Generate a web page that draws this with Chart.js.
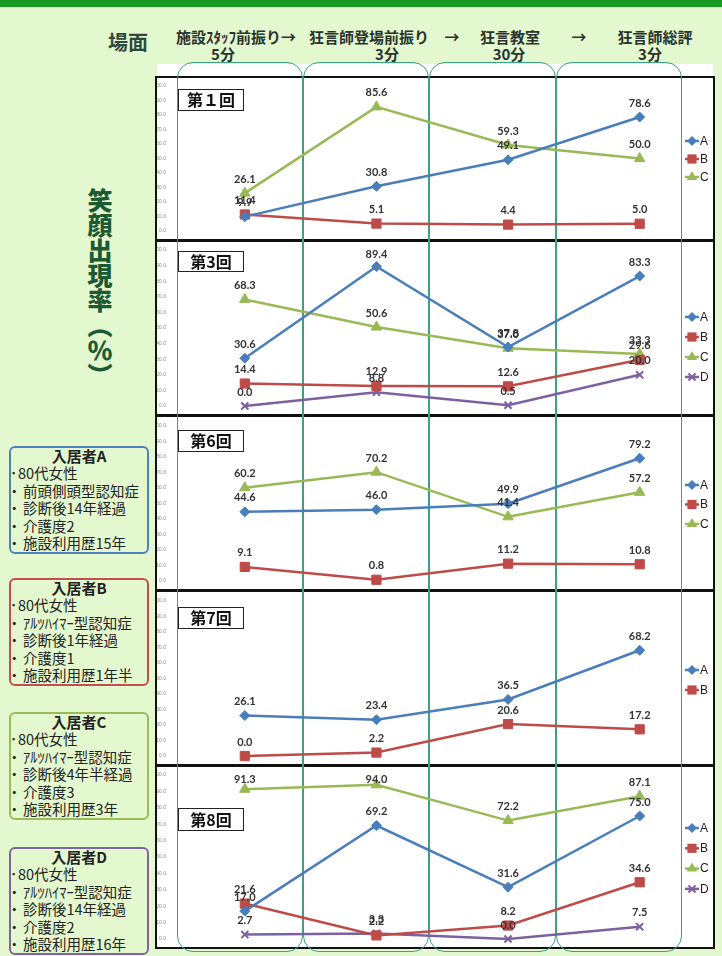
<!DOCTYPE html>
<html>
<head>
<meta charset="utf-8">
<script src="https://cdn.jsdelivr.net/npm/chart.js@4.4.0/dist/chart.umd.min.js"></script>
<style>
html, body { margin: 0; padding: 0; }
body { width: 722px; height: 956px; background: #e4f8cf; position: relative; overflow: hidden; font-family: "Noto Sans CJK JP", sans-serif; }
.topbar { position: absolute; left: 0; top: 0; width: 722px; height: 7px; background: #1b9a22; }
.hdr { position: absolute; font-weight: bold; font-size: 15px; color: #2a332d; white-space: nowrap; transform: translate(-50%, -50%); line-height: 1; }
.band { position: absolute; left: 157px; top: 64px; width: 556px; height: 14px; background: #fff; z-index: 0; }
.panel { position: absolute; left: 155px; width: 560px; box-sizing: border-box; border: 2px solid #111; background: #fff; z-index: 1; }
.col { position: absolute; top: 62px; height: 890px; box-sizing: border-box; border: 1.5px solid #3f9f83; border-radius: 16px; z-index: 2; }
canvas { position: absolute; left: 157px; z-index: 3; }
.tag { position: absolute; left: 178px; width: 66px; box-sizing: border-box; border: 1.5px solid #222; background: #fff; font-weight: bold; font-size: 16px; text-align: center; z-index: 4; color: #111; }
.vt { position: absolute; left: 87px; top: 188px; writing-mode: vertical-rl; font-size: 25px; font-weight: 900; color: #1d5a33; line-height: 26px; }
.res { position: absolute; left: 9px; width: 140px; box-sizing: border-box; border: 2px solid; border-radius: 6px; color: #222; }
.res .t { font-weight: bold; font-size: 15px; line-height: 16px; text-align: center; }
.res .l { font-size: 14.5px; line-height: 17.5px; padding-left: 12px; position: relative; white-space: nowrap; }
.res .l::before { content: "・"; position: absolute; left: -4px; }
.res .l.h { padding-left: 7px; }
.res .l.h::before { content: "･"; left: -1px; }
</style>
</head>
<body>
<div class="topbar"></div>

<div class="hdr" style="left:128px;top:42px;font-size:20px;color:#2f4a3c">場面</div>
<div id="header"></div>

<div class="vt">笑顔出現率（％）</div>

<div class="res" style="top:446px;border-color:#4f81bd">
  <div class="t">入居者A</div>
  <div class="l h">80代女性</div>
  <div class="l">前頭側頭型認知症</div>
  <div class="l">診断後14年経過</div>
  <div class="l">介護度2</div>
  <div class="l">施設利用歴15年</div>
</div>
<div class="res" style="top:578px;border-color:#c0504d">
  <div class="t">入居者B</div>
  <div class="l h">80代女性</div>
  <div class="l">ｱﾙﾂﾊｲﾏｰ型認知症</div>
  <div class="l">診断後1年経過</div>
  <div class="l">介護度1</div>
  <div class="l">施設利用歴1年半</div>
</div>
<div class="res" style="top:712px;border-color:#9bbb59">
  <div class="t">入居者C</div>
  <div class="l h">80代女性</div>
  <div class="l">ｱﾙﾂﾊｲﾏｰ型認知症</div>
  <div class="l">診断後4年半経過</div>
  <div class="l">介護度3</div>
  <div class="l">施設利用歴3年</div>
</div>
<div class="res" style="top:847px;border-color:#8064a2">
  <div class="t">入居者D</div>
  <div class="l h">80代女性</div>
  <div class="l">ｱﾙﾂﾊｲﾏｰ型認知症</div>
  <div class="l">診断後14年経過</div>
  <div class="l">介護度2</div>
  <div class="l">施設利用歴16年</div>
</div>

<div class="band"></div>
<div class="col" style="left:177px;width:126px"></div>
<div class="col" style="left:303px;width:126px"></div>
<div class="col" style="left:429px;width:127px"></div>
<div class="col" style="left:556px;width:126px"></div>

<div id="panels"></div>

<script>
// scenes (x categories) and their durations
const scenes = ["施設ｽﾀｯﾌ前振り", "狂言師登場前振り", "狂言教室", "狂言師総評"];
const sceneMinutes = ["5分", "3分", "30分", "3分"];
const seriesNames = ["A", "B", "C", "D"];

// smile rate (%) per resident, per session
const round1A = [9.9, 30.8, 49.1, 78.6];
const round1B = [11.4, 5.1, 4.4, 5.0];
const round1C = [26.1, 85.6, 59.3, 50.0];

const round3A = [30.6, 89.4, 37.8, 83.3];
const round3B = [14.4, 12.9, 12.6, 29.6];
const round3C = [68.3, 50.6, 37.0, 33.3];
const round3D = [0.0, 8.8, 0.5, 20.0];

const round6A = [44.6, 46.0, 49.9, 79.2];
const round6B = [9.1, 0.8, 11.2, 10.8];
const round6C = [60.2, 70.2, 41.4, 57.2];

const round7A = [26.1, 23.4, 36.5, 68.2];
const round7B = [0.0, 2.2, 20.6, 17.2];

const round8A = [17.0, 69.2, 31.6, 75.0];
const round8B = [21.6, 2.2, 8.2, 34.6];
const round8C = [91.3, 94.0, 72.2, 87.1];
const round8D = [2.7, 3.3, 0.0, 7.5];

const rounds = [
    { label: "第１回", series: [round1A, round1B, round1C] },
    { label: "第3回", series: [round3A, round3B, round3C, round3D] },
    { label: "第6回", series: [round6A, round6B, round6C] },
    { label: "第7回", series: [round7A, round7B] },
    { label: "第8回", series: [round8A, round8B, round8C, round8D] }
];

// look of each resident's line
const seriesStyles = [
    { color: "#4a7ebb", point: "rectRot", radius: 5 },
    { color: "#be4b48", point: "rect", radius: 6.5 },
    { color: "#98b954", point: "triangle", radius: 6 },
    { color: "#7d60a0", point: "crossRot", radius: 5 }
];

// where each panel sits on the page
const panelBoxes = [
    { top: 76, height: 165, padTop: 7, padBottom: 5, legendTop: 63, legendGap: 18, tagTop: 89, tagHeight: 22 },
    { top: 240, height: 176, padTop: 8, padBottom: 7, legendTop: 75, legendGap: 20, tagTop: 251, tagHeight: 21 },
    { top: 415, height: 176, padTop: 9, padBottom: 3, legendTop: 68, legendGap: 19.5, tagTop: 430, tagHeight: 22 },
    { top: 590, height: 176, padTop: 9, padBottom: 5, legendTop: 78, legendGap: 20, tagTop: 607, tagHeight: 22 },
    { top: 765, height: 184, padTop: 8, padBottom: 4, legendTop: 61, legendGap: 20.3, tagTop: 808, tagHeight: 23 }
];

// header row
const header = document.getElementById("header");
const line1X = [236, 369, 510, 655];
const line2X = [223, 387, 509, 650];
scenes.forEach((name, i) => {
    header.innerHTML += `<div class="hdr" style="left:${line1X[i]}px;top:36px">${name}${i === 0 ? "→" : ""}</div>`;
    header.innerHTML += `<div class="hdr" style="left:${line2X[i]}px;top:53px">${sceneMinutes[i]}</div>`;
});
header.innerHTML += `<div class="hdr" style="left:452px;top:36px">→</div>`;
header.innerHTML += `<div class="hdr" style="left:579px;top:36px">→</div>`;

function drawMarker(ctx, style, x, y, r) {
    ctx.beginPath();
    if (style === "rectRot") {
        ctx.moveTo(x, y - r);
        ctx.lineTo(x + r, y);
        ctx.lineTo(x, y + r);
        ctx.lineTo(x - r, y);
        ctx.closePath();
        ctx.fill();
    } else if (style === "rect") {
        const s = r * Math.SQRT1_2;
        ctx.rect(x - s, y - s, 2 * s, 2 * s);
        ctx.fill();
    } else if (style === "triangle") {
        const w = r * Math.sqrt(3) / 2;
        ctx.moveTo(x, y - r);
        ctx.lineTo(x + w, y + r / 2);
        ctx.lineTo(x - w, y + r / 2);
        ctx.closePath();
        ctx.fill();
    } else {
        const s = r * Math.SQRT1_2;
        ctx.lineWidth = 2;
        ctx.moveTo(x - s, y - s);
        ctx.lineTo(x + s, y + s);
        ctx.moveTo(x + s, y - s);
        ctx.lineTo(x - s, y + s);
        ctx.stroke();
    }
}

// numbers above each point
const valueLabels = {
    id: "valueLabels",
    afterDatasetsDraw(chart) {
        const ctx = chart.ctx;
        ctx.save();
        ctx.font = "bold 11px Lato";
        ctx.fillStyle = "#333";
        ctx.textAlign = "center";
        ctx.textBaseline = "middle";
        chart.data.datasets.forEach((ds, i) => {
            chart.getDatasetMeta(i).data.forEach((pt, j) => {
                const y = Math.max(pt.y - 14, chart.chartArea.top + 4);
                ctx.fillText(ds.data[j].toFixed(1), pt.x, y);
            });
        });
        ctx.restore();
    }
};

// small legend drawn at the right side inside the plot
const sideLegend = {
    id: "sideLegend",
    afterDraw(chart, args, opts) {
        const ctx = chart.ctx;
        ctx.save();
        chart.data.datasets.forEach((ds, i) => {
            const st = seriesStyles[i];
            const y = opts.top + i * opts.gap;
            ctx.strokeStyle = st.color;
            ctx.fillStyle = st.color;
            ctx.lineWidth = 2.5;
            ctx.beginPath();
            ctx.moveTo(528, y);
            ctx.lineTo(542, y);
            ctx.stroke();
            drawMarker(ctx, st.point, 535, y, st.radius);
            ctx.fillStyle = "#222";
            ctx.font = "12px 'Liberation Sans'";
            ctx.textAlign = "left";
            ctx.textBaseline = "middle";
            ctx.fillText(ds.label, 543, y + 0.5);
        });
        ctx.restore();
    }
};

const panelsEl = document.getElementById("panels");

rounds.forEach((round, k) => {
    const box = panelBoxes[k];

    const panel = document.createElement("div");
    panel.className = "panel";
    panel.style.top = box.top + "px";
    panel.style.height = box.height + "px";
    panelsEl.appendChild(panel);

    const canvas = document.createElement("canvas");
    canvas.width = 556;
    canvas.height = box.height - 4;
    canvas.style.top = (box.top + 2) + "px";
    panelsEl.appendChild(canvas);

    const tag = document.createElement("div");
    tag.className = "tag";
    tag.style.top = box.tagTop + "px";
    tag.style.height = box.tagHeight + "px";
    tag.style.lineHeight = (box.tagHeight - 3) + "px";
    tag.textContent = round.label;
    panelsEl.appendChild(tag);

    const datasets = round.series.map((values, i) => ({
        label: seriesNames[i],
        data: values,
        borderColor: seriesStyles[i].color,
        backgroundColor: seriesStyles[i].color,
        borderWidth: 2.5,
        pointStyle: seriesStyles[i].point,
        pointRadius: seriesStyles[i].radius,
        pointBackgroundColor: seriesStyles[i].color,
        pointBorderColor: seriesStyles[i].color,
        pointBorderWidth: seriesStyles[i].point === "crossRot" ? 2 : 1,
        tension: 0,
        clip: false
    }));

    new Chart(canvas, {
        type: "line",
        data: { labels: scenes, datasets: datasets },
        options: {
            animation: false,
            responsive: false,
            maintainAspectRatio: false,
            layout: { padding: { top: box.padTop, bottom: box.padBottom, left: 0, right: 2 } },
            plugins: {
                legend: { display: false },
                tooltip: { enabled: false },
                sideLegend: { top: box.legendTop, gap: box.legendGap }
            },
            scales: {
                x: { display: false, offset: true },
                y: {
                    min: 0,
                    max: 100,
                    afterFit: scale => { scale.width = 22; },
                    grid: { display: false },
                    border: { display: false },
                    ticks: {
                        stepSize: 10,
                        autoSkip: false,
                        padding: 5,
                        color: "#8a8a8a",
                        font: { size: 5, family: "Liberation Sans" },
                        callback: v => v.toFixed(1)
                    }
                }
            }
        },
        plugins: [valueLabels, sideLegend]
    });
});
</script>
</body>
</html>
